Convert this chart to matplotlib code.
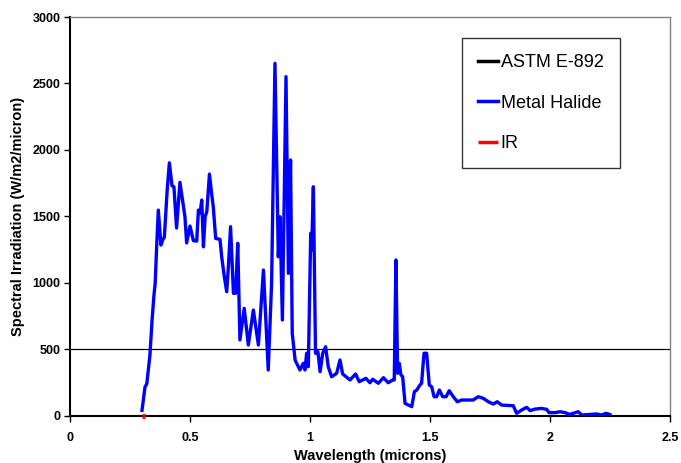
import matplotlib
matplotlib.use("Agg")
import matplotlib.pyplot as plt

# Metal Halide spectrum
wavelength = [0.300, 0.3125, 0.320, 0.333, 0.342, 0.350, 0.355, 0.361, 0.368, 0.379,
              0.388, 0.393, 0.405, 0.414, 0.425, 0.433, 0.444, 0.458, 0.479, 0.486,
              0.500, 0.514, 0.528, 0.535, 0.542, 0.549, 0.556, 0.563, 0.570, 0.581,
              0.590, 0.597, 0.607, 0.625, 0.632, 0.643, 0.653, 0.660, 0.669, 0.681,
              0.690, 0.699, 0.708, 0.726, 0.743, 0.764, 0.785, 0.806, 0.826, 0.840,
              0.854, 0.868, 0.875, 0.885, 0.900, 0.910, 0.919, 0.926, 0.938, 0.958,
              0.972, 0.979, 0.986, 0.993, 1.003, 1.007, 1.014, 1.023, 1.033, 1.042,
              1.053, 1.065, 1.076, 1.090, 1.111, 1.125, 1.136, 1.167, 1.190, 1.205,
              1.233, 1.250, 1.261, 1.285, 1.306, 1.326, 1.344, 1.351, 1.358, 1.365,
              1.372, 1.379, 1.386, 1.396, 1.410, 1.424, 1.435, 1.445, 1.458, 1.465,
              1.475, 1.486, 1.497, 1.507, 1.517, 1.528, 1.539, 1.553, 1.567, 1.580,
              1.597, 1.614, 1.632, 1.680, 1.701, 1.722, 1.743, 1.764, 1.780, 1.799,
              1.847, 1.861, 1.882, 1.903, 1.917, 1.938, 1.965, 1.986, 1.996, 2.021,
              2.042, 2.063, 2.081, 2.097, 2.118, 2.132, 2.174, 2.194, 2.215, 2.233,
              2.243, 2.250]
metal_halide = [40, 216, 240, 455, 720, 910, 998, 1271, 1547, 1284,
                1330, 1340, 1700, 1903, 1730, 1723, 1412, 1756, 1497, 1300,
                1427, 1317, 1314, 1547, 1525, 1623, 1271, 1497, 1535, 1818,
                1673, 1572, 1334, 1327, 1196, 1046, 933, 1121, 1422, 921,
                921, 1297, 570, 808, 532, 795, 532, 1096, 344, 996,
                2651, 1196, 1497, 720, 2551, 1071, 1924, 620, 419, 344,
                394, 344, 470, 369, 1372, 1247, 1723, 470, 482, 331,
                470, 519, 369, 293, 319, 419, 314, 269, 314, 256,
                281, 248, 274, 244, 286, 248, 269, 269, 1172, 319,
                394, 306, 294, 93, 80, 68, 181, 193, 231, 244,
                470, 470, 231, 218, 143, 143, 193, 143, 143, 188,
                143, 105, 118, 118, 143, 131, 105, 88, 105, 80,
                75, 18, 43, 63, 38, 50, 55, 48, 23, 23,
                30, 23, 10, 18, 30, 5, 10, 13, 5, 18,
                13, 8]

# IR series (tiny segment near origin)
ir_wavelength = [0.300, 0.312]
ir_values = [0, 0]

# ASTM E-892 (not visible in plot area)
astm_wavelength = []
astm_values = []

ref_level = 500

x_ticks = [0, 0.5, 1, 1.5, 2, 2.5]
x_ticklabels = ["0", "0.5", "1", "1.5", "2", "2.5"]
y_ticks = [0, 500, 1000, 1500, 2000, 2500, 3000]

plt.rcParams['font.family'] = ['Liberation Sans', 'DejaVu Sans']

fig = plt.figure(figsize=(6.81, 4.63), dpi=100)
ax = fig.add_axes([70/681, 1-415.7/463, 600/681, (415.7-17)/463])

ax.axhline(ref_level, color='black', lw=0.9, zorder=1)
l_astm, = ax.plot(astm_wavelength, astm_values, color='black', lw=2.2, label='ASTM E-892')
l_mh, = ax.plot(wavelength, metal_halide, color='#0000FF', lw=2.4, label='Metal Halide',
                solid_joinstyle='round', zorder=3)
l_ir, = ax.plot(ir_wavelength, ir_values, color='#FF0000', lw=3.5, label='IR',
                zorder=5, clip_on=False, solid_capstyle='butt')

ax.set_xlim(0, 2.5)
ax.set_ylim(0, 3000)
ax.set_xticks(x_ticks)
ax.set_xticklabels(x_ticklabels)
ax.set_yticks(y_ticks)
for lab in ax.get_xticklabels() + ax.get_yticklabels():
    lab.set_fontweight('bold')
    lab.set_fontsize(9)
ax.tick_params(axis='both', direction='out', length=4, width=1, color='black')
ax.tick_params(axis='x', pad=8)
ax.tick_params(axis='y', pad=3)

for side in ['left', 'bottom']:
    ax.spines[side].set_color('black')
    ax.spines[side].set_linewidth(1.5)
for side in ['top', 'right']:
    ax.spines[side].set_color('#808080')
    ax.spines[side].set_linewidth(1.0)

ax.set_xlabel('Wavelength (microns)', fontsize=10.5, fontweight='bold', labelpad=3)
ax.set_ylabel('Spectral Irradiation (W/m2/micron)', fontsize=10.5, fontweight='bold', labelpad=5)

leg = fig.legend(handles=[l_astm, l_mh, l_ir], loc='upper left',
                 bbox_to_anchor=(462/681, 1-38/463), bbox_transform=fig.transFigure,
                 fontsize=13, frameon=True, fancybox=False, shadow=False,
                 handlelength=1.1, handletextpad=0.15, labelspacing=1.3,
                 borderpad=0.9, borderaxespad=0)
leg.get_frame().set_edgecolor('black')
leg.get_frame().set_linewidth(1.0)
for h in leg.legend_handles:
    h.set_linewidth(2.5)

fig.savefig('out.png', dpi=100)
